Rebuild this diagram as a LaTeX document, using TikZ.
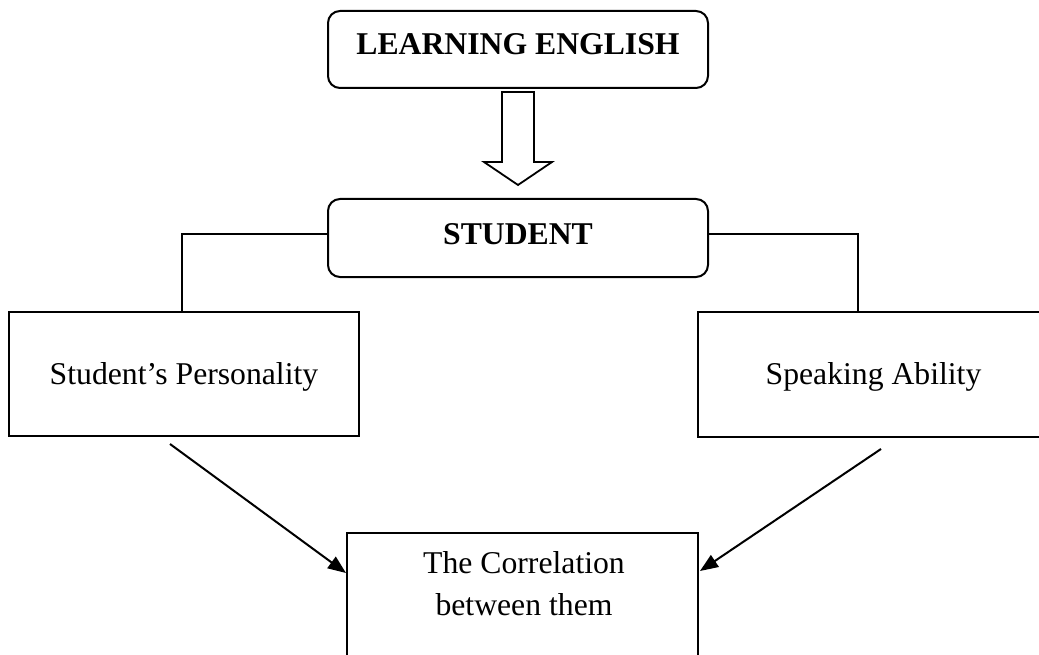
\documentclass[tikz,border=0pt]{standalone}
\usepackage{fontspec}
\setmainfont{Liberation Serif}
\usetikzlibrary{arrows.meta,calc}
\begin{document}
\begin{tikzpicture}[x=1pt,y=-1pt,
  box/.style={draw, rectangle, inner sep=0pt, line width=2pt},
  rbox/.style={box, rounded corners=12pt},
  txt/.style={inner sep=0pt, anchor=base, font=\fontsize{31.7}{38}\selectfont},
  btxt/.style={inner sep=0pt, anchor=base, font=\fontsize{31.7}{38}\selectfont\bfseries},
  conn/.style={draw, line width=2pt},
  arr/.style={-{Triangle[length=18pt,width=14pt]}, line width=2pt}]
\clip (0,0) rectangle (1039,655);
% boxes
\node[rbox, minimum width=380pt, minimum height=77pt] (le) at (518,49.5) {};
\node[btxt] (leT) at (518,55) {LEARNING ENGLISH};
\node[rbox, minimum width=380pt, minimum height=78pt] (stu) at (518,238) {};
\node[btxt] (stuT) at (518,245) {STUDENT};
\node[box, minimum width=350pt, minimum height=124pt] (pers) at (184,374) {};
\node[txt] (persT) at (184,384) {Student’s Personality};
\node[box, minimum width=351pt, minimum height=125pt] (speak) at (873.5,374.5) {};
\node[txt] (speakT) at (873.5,384) {Speaking Ability};
\node[box, minimum width=351pt, minimum height=200pt] (corr) at (522.5,633) {};
\node[txt] (corrA) at (524,573) {The Correlation};
\node[txt] (corrB) at (524,615) {between them};
% hollow block arrow
\draw[line width=1.8pt, line join=miter] (502,92) -- (534,92) -- (534,162) -- (552,162) -- (518,185) -- (484,162) -- (502,162) -- cycle;
% connectors
\coordinate (lj) at (182,311);
\coordinate (rj) at (858,311);
\draw[conn] ($(stu.west)+(0,-4)$) -| (lj);
\draw[conn] ($(stu.east)+(0,-4)$) -| (rj);
\coordinate (a1) at (170,444);
\coordinate (a2) at (881,449);
\draw[arr] (a1) -- ($(corr.north west)+(0,41)$);
\draw[arr] (a2) -- ($(corr.north east)+(1,39)$);
\end{tikzpicture}
\end{document}
